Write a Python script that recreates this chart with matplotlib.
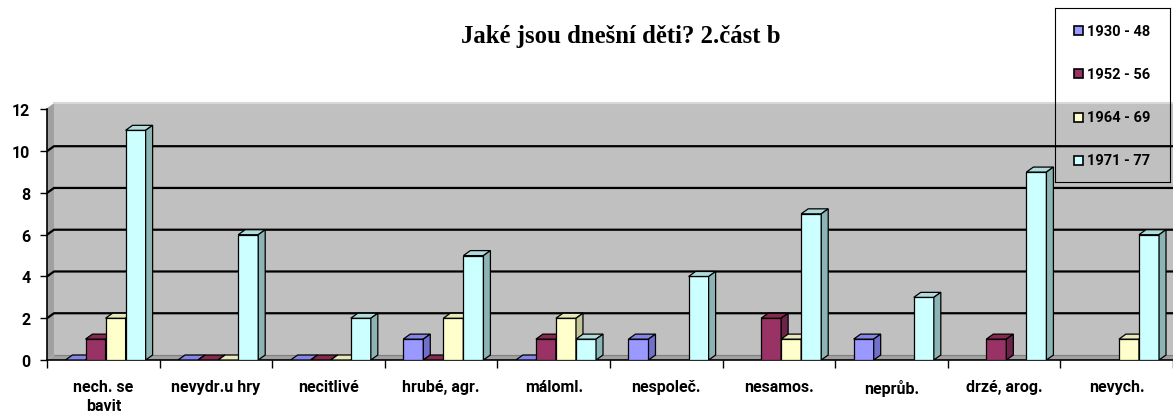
import matplotlib
matplotlib.use("Agg")
import matplotlib.pyplot as plt
from matplotlib.patches import Polygon, Rectangle
import numpy as np

nan = np.nan
categories = ["nech. se\nbavit", "nevydr.u hry", "necitlivé", "hrubé, agr.", "máloml.",
              "nespoleč.", "nesamos.", "neprůb.", "drzé, arog.", "nevych."]
series_names = ["1930 - 48", "1952 - 56", "1964 - 69", "1971 - 77"]
s1930 = [0, 0, 0, 1, 0, 1, nan, 1, nan, nan]
s1952 = [1, 0, 0, 0, 1, nan, 2, nan, 1, nan]
s1964 = [2, 0, 0, 2, 2, nan, 1, nan, nan, 1]
s1971 = [11, 6, 2, 5, 1, 4, 7, 3, 9, 6]
yticks = [0, 2, 4, 6, 8, 10, 12]

front = ["#9999FF", "#993366", "#FFFFCC", "#CCFFFF"]
top_c = ["#8585e8", "#85294f", "#e8e8ba", "#b0dcdc"]
side_c = ["#7070cc", "#6b2347", "#c4c49a", "#8cb4b4"]

W, H = 1173, 414
fig = plt.figure(figsize=(W / 100, H / 100), dpi=100)
fig.patch.set_facecolor("white")

px_unit = 20.88
ax_left, ax_right, ax_bottom, ax_top = 47, 1173, 361, 100
ax = fig.add_axes([ax_left / W, (H - ax_bottom) / H, (ax_right - ax_left) / W, (ax_bottom - ax_top) / H])
xmin = -0.5
xmax = xmin + (ax_right - ax_left) / 113.0
ymax = (ax_bottom - ax_top) / px_unit
ax.set_xlim(xmin, xmax)
ax.set_ylim(0, ymax)
ax.set_facecolor("white")

dx = 7 / 113.0
dy = 5 / px_unit
wall_top = 12.3

# back wall, side wall, floor
ax.add_patch(Rectangle((xmin + dx, dy), xmax - xmin, wall_top - dy, facecolor="#C0C0C0",
                       edgecolor="none", zorder=0))
ax.add_patch(Polygon([(xmin, 0), (xmin + dx, dy), (xmin + dx, wall_top), (xmin, wall_top - dy)],
                     closed=True, facecolor="#a0a0a0", edgecolor="none", zorder=0))
ax.add_patch(Polygon([(xmin, 0), (xmax + 1, 0), (xmax + 1, dy), (xmin + dx, dy)],
                     closed=True, facecolor="#a0a0a0", edgecolor="none", zorder=0))
ax.plot([xmin + dx, xmax + 1], [wall_top, wall_top], color="#d8d8d8", lw=1.5, zorder=1)

for t in yticks[1:-1]:
    ax.plot([xmin, xmin + dx, xmax + 1], [t, t + dy, t + dy], color="black", lw=1.6, zorder=1)
ax.plot([xmin + dx, xmax + 1], [dy, dy], color="#808080", lw=0.8, zorder=1)

series = [s1930, s1952, s1964, s1971]
w = 0.178
for i in range(len(categories)):
    for k, s in enumerate(series):
        v = s[i]
        if np.isnan(v):
            continue
        x0 = i + (k - 2) * w + 0.02
        ax.add_patch(Rectangle((x0, 0), w, v, facecolor=front[k], edgecolor="black", lw=0.9, zorder=3))
        ax.add_patch(Polygon([(x0, v), (x0 + dx, v + dy), (x0 + w + dx, v + dy), (x0 + w, v)],
                             closed=True, facecolor=top_c[k], edgecolor="black", lw=0.9, zorder=3))
        ax.add_patch(Polygon([(x0 + w, 0), (x0 + w + dx, dy), (x0 + w + dx, v + dy), (x0 + w, v)],
                             closed=True, facecolor=side_c[k], edgecolor="black", lw=0.9, zorder=3))

for sp in ["top", "right"]:
    ax.spines[sp].set_visible(False)
ax.spines["left"].set_bounds(0, 12)
ax.spines["left"].set_linewidth(1.2)
ax.spines["bottom"].set_linewidth(1.2)

lab_font = ["Roboto", "DejaVu Sans"]
ax.set_yticks(yticks)
ax.set_yticklabels([str(t) for t in yticks], fontweight="bold", fontsize=11.5, family=lab_font)
ax.tick_params(axis="y", length=5, width=1, pad=7)
ax.set_xticks(range(len(categories)))
ax.set_xticklabels(categories, fontweight="bold", fontsize=11.5, family=lab_font, linespacing=1.35)
ax.tick_params(axis="x", which="major", length=0, pad=13.5)
ax.set_xticks(np.arange(len(categories) + 1) - 0.5, minor=True)
ax.tick_params(axis="x", which="minor", length=6, width=1)

fig.text(621 / W, 1 - 37 / H, "Jaké jsou dnešní děti? 2.část b", ha="center", va="center",
         fontsize=17.8, fontweight="bold", family=["Liberation Serif", "DejaVu Serif"])

# legend box
lax = fig.add_axes([1055 / W, 1 - 183 / H, 115 / W, 174 / H])
lax.set_xlim(0, 115)
lax.set_ylim(174, 0)
lax.patch.set_alpha(0)
lax.set_xticks([])
lax.set_yticks([])
for sp in lax.spines.values():
    sp.set_linewidth(0.8)
for k, name in enumerate(series_names):
    yy = 22.5 + k * 43.3
    lax.add_patch(Rectangle((19, yy - 4.5), 9, 9, facecolor=front[k], edgecolor="black", lw=1.2))
    lax.text(32, yy, name, va="center", ha="left", fontsize=10.5, fontweight="bold", family=lab_font)

fig.savefig("out.png", dpi=100)
